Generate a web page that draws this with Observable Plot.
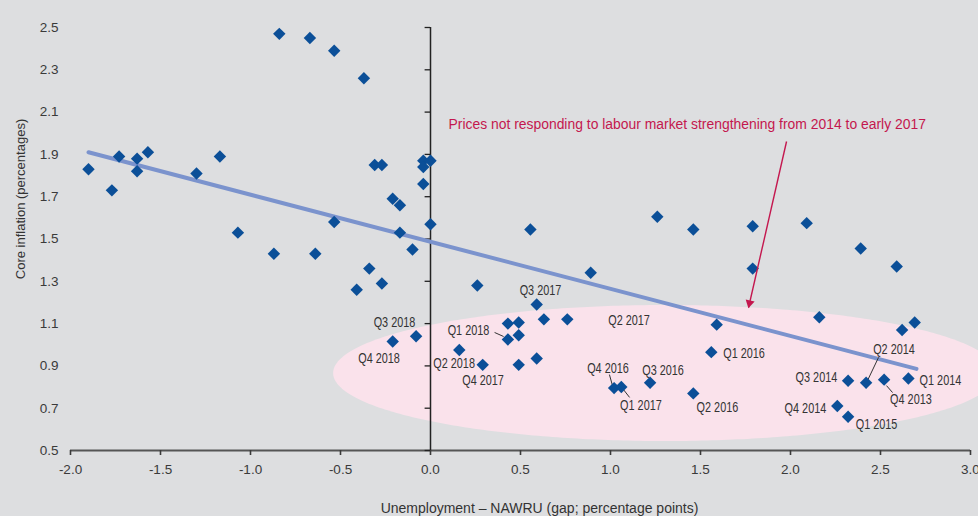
<!DOCTYPE html>
<html>
<head>
<meta charset="utf-8">
<script src="https://cdn.jsdelivr.net/npm/d3@7"></script>
<script src="https://cdn.jsdelivr.net/npm/@observablehq/plot@0.6"></script>
<style>
  html, body { margin: 0; padding: 0; background: #dddee0; overflow: hidden; }
  #chart svg { display: block; }
</style>
</head>
<body>
<div id="chart"></div>
<script>
// Unemployment gap (x) and core inflation (y), quarterly observations
const gapX = [
  -1.90, -1.77, -1.73, -1.63, -1.63, -1.57, -1.30, -1.17, -1.07, -0.84,
  -0.67, -0.535, -0.37, -0.31, -0.27, -0.04, -0.04, 0.00, -0.04, -0.21,
  -0.17, -0.535, 0.00, -0.17, -0.10, -0.87, -0.64, -0.34, -0.27, -0.41,
  -0.08, -0.21, 0.26, 0.59, 0.43, 0.49, 0.63, 0.76, 0.43, 0.49,
  0.16, 0.29, 0.49, 0.59, 1.02, 1.06, 1.22, 1.59, 1.56, 1.46,
  2.16, 2.62, 2.69, 2.32, 2.42, 2.52, 2.655, 2.26, 2.32, 0.555,
  1.26, 1.46, 1.79, 2.09, 2.39, 0.89, 1.79, 2.59
];
const inflY = [
  1.83, 1.73, 1.89, 1.88, 1.82, 1.91, 1.81, 1.89, 1.53, 2.47,
  2.45, 2.39, 2.26, 1.85, 1.85, 1.87, 1.84, 1.87, 1.76, 1.69,
  1.66, 1.58, 1.57, 1.53, 1.45, 1.43, 1.43, 1.36, 1.29, 1.26,
  1.04, 1.015, 1.28, 1.19, 1.10, 1.105, 1.12, 1.12, 1.025, 1.045,
  0.975, 0.905, 0.905, 0.935, 0.795, 0.80, 0.82, 1.095, 0.965, 0.77,
  1.13, 1.07, 1.105, 0.83, 0.82, 0.835, 0.84, 0.71, 0.66, 1.545,
  1.605, 1.545, 1.56, 1.575, 1.455, 1.34, 1.36, 1.37
];

// Quarter labels (anchor points in data units)
const labelText = ["Q3 2018", "Q4 2018", "Q1 2018", "Q2 2018", "Q4 2017", "Q3 2017", "Q2 2017",
  "Q4 2016", "Q1 2017", "Q3 2016", "Q2 2016", "Q1 2016", "Q3 2014", "Q2 2014", "Q4 2013",
  "Q1 2014", "Q4 2014", "Q1 2015"];
const labelX = [-0.200, -0.286, 0.211, 0.131, 0.292, 0.611, 1.103, 0.986, 1.169, 1.292, 1.594,
  1.742, 2.144, 2.575, 2.669, 2.833, 2.083, 2.478];
const labelY = [1.105, 0.935, 1.067, 0.911, 0.831, 1.257, 1.115, 0.888, 0.713, 0.878, 0.703,
  0.959, 0.845, 0.978, 0.741, 0.831, 0.699, 0.623];

// Leader lines from labels to points
const leaderX1 = [0.356, 0.994, 1.072, 2.489, 2.533];
const leaderY1 = [1.058, 0.859, 0.788, 0.940, 0.807];
const leaderX2 = [0.406, 1.011, 1.106, 2.428, 2.567];
const leaderY2 = [1.039, 0.807, 0.751, 0.831, 0.774];

// Linear trend
const trendX = [-1.90, 2.70];
const trendY = [1.91, 0.886];

// Ticks
const xTicks = [-2.0, -1.5, -1.0, -0.5, 0.0, 0.5, 1.0, 1.5, 2.0, 2.5, 3.0];
const yTicks = [0.5, 0.7, 0.9, 1.1, 1.3, 1.5, 1.7, 1.9, 2.1, 2.3, 2.5];

// Highlight ellipse (data units)
const ellipseCenter = [1.306, 0.864];
const ellipseRadii = [1.844, 0.3215];

// Annotation
const annotationText = "Prices not responding to labour market strengthening from 2014 to early 2017";
const annotationPos = [0.10, 2.041];
const arrowX = [1.978, 1.767];
const arrowY = [1.961, 1.176];

const xTitle = "Unemployment \u2013 NAWRU (gap; percentage points)";
const yTitle = "Core inflation (percentages)";

const points = gapX.map((x, i) => ({x, y: inflY[i]}));
const labels = labelText.map((t, i) => ({t, x: labelX[i], y: labelY[i]}));
const leaders = leaderX1.map((x1, i) => ({x1, y1: leaderY1[i], x2: leaderX2[i], y2: leaderY2[i]}));
const trend = trendX.map((x, i) => ({x, y: trendY[i]}));
const ellipse = d3.range(0, 201).map(k => {
  const th = Math.PI * k / 200;
  return {
    x: ellipseCenter[0] - ellipseRadii[0] * Math.cos(th),
    y1: ellipseCenter[1] - ellipseRadii[1] * Math.sin(th),
    y2: ellipseCenter[1] + ellipseRadii[1] * Math.sin(th)
  };
});

const sans = "'Liberation Sans', Arial, sans-serif";
const crimson = "#c4174e";

const chart = Plot.plot({
  width: 978,
  height: 516,
  marginLeft: 70,
  marginRight: 8,
  marginTop: 27,
  marginBottom: 66,
  x: {domain: [-2, 3]},
  y: {domain: [0.5, 2.5]},
  style: {
    background: "transparent",
    fontFamily: sans,
    fontSize: "13.5px",
    color: "#3a3a3a",
    overflow: "visible"
  },
  marks: [
    Plot.areaY(ellipse, {x: "x", y1: "y1", y2: "y2", fill: "#fae2eb", curve: "linear"}),
    Plot.ruleY([0.5], {x1: -2, x2: 3, stroke: "#555", strokeWidth: 1.8}),
    Plot.axisX({ticks: xTicks, tickSize: 5, tickPadding: 9, tickFormat: d => d.toFixed(1), strokeWidth: 1.6, label: null}),
    Plot.axisY({ticks: yTicks, tickSize: 0, tickPadding: 12, tickFormat: d => d.toFixed(1), label: null}),
    Plot.ruleX([0], {y1: 0.5, y2: 2.5, stroke: "#222", strokeWidth: 1.5}),
    Plot.ruleY(yTicks, {y: d => d, x1: -0.03, x2: 0, stroke: "#222", strokeWidth: 1.3}),
    Plot.line(trend, {x: "x", y: "y", stroke: "#7b93cd", strokeWidth: 4}),
    Plot.link(leaders, {x1: "x1", y1: "y1", x2: "x2", y2: "y2", stroke: "#333", strokeWidth: 1}),
    Plot.dot(points, {x: "x", y: "y", symbol: "diamond2", r: 5.6, fill: "#0b4f98", stroke: "none"}),
    Plot.text(labels, {x: "x", y: "y", text: "t", fontFamily: sans, fontSize: 14.5, fill: "#333", textAnchor: "middle", lineAnchor: "middle"}),
    Plot.text([annotationText], {x: annotationPos[0], y: annotationPos[1], text: d => d, fontFamily: sans, fontSize: 15.2, fill: crimson, textAnchor: "start", lineAnchor: "middle"}),
    Plot.link([0], {x1: arrowX[0], y1: arrowY[0], x2: arrowX[1], y2: arrowY[1], stroke: crimson, strokeWidth: 1.4}),
    Plot.dot([0], {x: arrowX[1], y: arrowY[1], dx: 1, dy: -4.4, symbol: "triangle", r: 3.4, rotate: 193, fill: crimson, stroke: "none"}),
    Plot.text([xTitle], {frameAnchor: "bottom", text: d => d, dx: 19, dy: 58, fontSize: 14, fill: "#333", textAnchor: "middle", lineAnchor: "middle"}),
    Plot.text([yTitle], {frameAnchor: "left", text: d => d, dx: -50, dy: -40, rotate: -90, fontSize: 13, fill: "#333", textAnchor: "middle", lineAnchor: "middle"})
  ]
});
document.getElementById("chart").appendChild(chart);

// Condense label fonts (the reference uses a condensed typeface)
const labelSet = new Set(labelText);
chart.querySelectorAll("text").forEach(t => {
  const s = t.textContent;
  let ratio = null;
  if (labelSet.has(s)) ratio = 0.75;
  else if (s === annotationText) ratio = 0.915;
  if (ratio === null) return;
  const w = t.getComputedTextLength();
  if (w > 0) {
    t.setAttribute("textLength", (w * ratio).toFixed(1));
    t.setAttribute("lengthAdjust", "spacingAndGlyphs");
  }
});
</script>
</body>
</html>
